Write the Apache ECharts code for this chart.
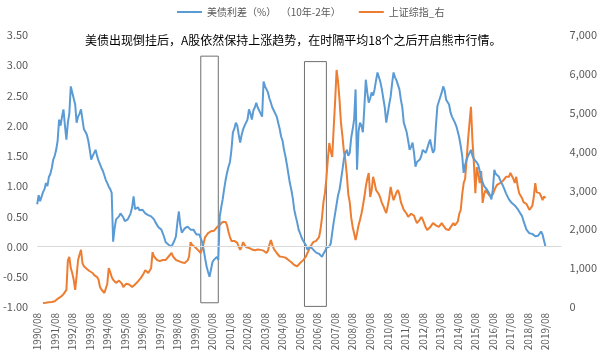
<!DOCTYPE html>
<html><head><meta charset="utf-8">
<script src="https://cdn.jsdelivr.net/npm/echarts@6/dist/echarts.min.js"></script>
<style>html,body{margin:0;padding:0;background:#fff}#c{width:600px;height:361px}</style>
</head><body><div id="c"></div>
<script>
// Monthly categories 1990/08 .. 2020/07 (axis runs a little past the last data point)
const categories = [];
for (let i = 0; i < 360; i++) {
  const m = 7 + i; const y = 1990 + Math.floor(m / 12); const mm = (m % 12) + 1;
  categories.push(y + '/' + (mm < 10 ? '0' + mm : mm));
}
const spreadName = '美债利差（%）  （10年-2年）';
const indexName = '上证综指_右';
// US 10y-2y spread (%), monthly from 1990/08, one row per year (Aug..Jul)
const spread = [
  0.70,0.85,0.75,0.73,0.90,0.95,1.05,1.00,1.15,1.20,1.30,1.44,
  1.50,1.60,1.75,2.10,2.00,2.15,2.27,2.00,1.77,2.05,2.20,2.65,
  2.55,2.55,2.35,2.05,2.15,2.20,2.27,2.10,1.94,1.90,1.85,1.75,
  1.60,1.44,1.50,1.55,1.60,1.50,1.42,1.39,1.30,1.25,1.22,1.10,
  1.05,0.99,0.95,0.89,0.08,0.30,0.45,0.48,0.50,0.55,0.56,0.48,
  0.42,0.40,0.45,0.50,0.55,0.65,0.83,0.62,0.61,0.65,0.60,0.62,
  0.61,0.58,0.55,0.57,0.52,0.55,0.50,0.48,0.45,0.40,0.38,0.32,
  0.30,0.28,0.22,0.15,0.07,0.05,0.03,0.02,0.00,0.05,0.10,0.17,
  0.40,0.58,0.35,0.23,0.25,0.30,0.28,0.33,0.30,0.28,0.30,0.28,
  0.25,0.20,0.17,0.20,0.17,0.07,-0.05,-0.20,-0.33,-0.42,-0.50,-0.38,
  -0.26,-0.22,-0.20,-0.17,-0.22,0.50,0.65,0.78,0.95,1.10,1.22,1.32,
  1.40,1.60,1.89,1.95,2.05,2.00,1.85,1.72,1.85,1.94,2.00,2.05,
  2.10,2.27,2.20,2.10,2.25,2.30,2.38,2.30,2.27,2.20,2.15,2.73,
  2.65,2.60,2.55,2.45,2.38,2.30,2.25,2.22,2.15,2.05,1.95,1.82,
  1.75,1.60,1.49,1.35,1.20,1.05,0.94,0.80,0.61,0.50,0.40,0.28,
  0.22,0.15,0.10,0.07,0.02,-0.05,-0.02,0.00,0.00,-0.05,-0.08,-0.10,
  -0.10,-0.12,-0.15,-0.17,-0.12,-0.08,-0.02,0.00,0.00,0.05,0.23,0.40,
  0.55,0.70,0.85,0.94,1.10,1.27,1.45,1.55,1.60,1.50,1.55,1.80,
  1.94,2.10,2.60,1.27,1.90,2.05,2.00,1.89,2.30,2.76,2.55,2.38,
  2.45,2.55,2.50,2.60,2.75,2.88,2.80,2.72,2.60,2.45,2.30,2.05,
  2.20,2.35,2.48,2.70,2.88,2.80,2.75,2.72,2.60,2.43,2.30,2.05,
  2.05,1.89,1.75,1.60,1.65,1.72,1.55,1.32,1.40,1.38,1.44,1.50,
  1.60,1.58,1.55,1.62,1.70,1.77,1.65,1.55,1.60,2.00,2.32,2.40,
  2.43,2.55,2.65,2.58,2.43,2.45,2.35,2.22,2.15,2.10,2.05,1.99,
  1.90,1.80,1.66,1.50,1.22,1.35,1.44,1.50,1.55,1.60,1.50,1.45,
  1.42,1.39,1.35,1.25,1.15,1.06,1.00,0.98,0.94,0.90,0.85,0.78,
  0.95,1.27,1.20,1.22,1.16,1.10,1.05,1.00,0.94,0.88,0.85,0.78,
  0.75,0.72,0.70,0.68,0.66,0.62,0.58,0.55,0.50,0.42,0.35,0.28,
  0.25,0.22,0.20,0.21,0.18,0.17,0.17,0.18,0.19,0.25,0.20,0.10,
  0.00
];
// Shanghai Composite, monthly from 1990/08 (right axis)
const sse = [
  null,null,null,null,100,105,110,120,125,130,130,135,
  150,180,210,230,260,300,330,380,440,1200,1290,1000,
  875,700,440,800,1210,1350,1470,1130,1050,1000,980,950,
  920,900,875,820,800,770,700,515,450,400,360,330,
  600,1000,900,770,700,650,620,640,680,700,600,515,
  560,600,620,580,560,515,540,580,620,660,700,750,
  800,870,950,900,875,900,1000,1410,1300,1250,1210,1200,
  1180,1200,1210,1220,1210,1250,1300,1350,1390,1300,1250,1210,
  1200,1180,1160,1150,1140,1130,1130,1200,1300,1670,1600,1560,
  1545,1500,1470,1420,1390,1500,1650,1800,1850,1900,1930,1950,
  1930,1960,1980,2050,2080,2110,2150,2190,2200,2190,2100,1930,
  1800,1700,1650,1700,1720,1650,1550,1470,1550,1670,1600,1545,
  1545,1520,1500,1480,1470,1460,1470,1480,1500,1470,1470,1450,
  1420,1390,1450,1600,1720,1600,1500,1450,1390,1350,1300,1290,
  1290,1280,1270,1250,1210,1200,1150,1100,1080,1030,1050,1100,
  1130,1150,1200,1250,1300,1350,1470,1550,1600,1670,1650,1700,
  1720,1800,2000,2300,2700,2930,3300,3800,4220,4000,3860,4600,
  5300,6100,5800,5330,4740,4400,4000,3780,3400,2900,2700,2300,
  2060,1900,1720,1900,2100,2240,2400,2600,2830,3100,3300,3450,
  2830,3000,3350,3200,3010,3050,2900,2800,2680,2600,2500,2420,
  2600,2800,3090,2900,2750,2800,2950,3010,2900,2700,2600,2500,
  2450,2400,2320,2350,2400,2420,2350,2250,2160,2200,2250,2320,
  2250,2150,2050,1980,2000,2050,2100,2160,2150,2100,2080,2060,
  2100,2160,2100,2050,2000,2000,1980,2050,2100,2160,2100,2150,
  2200,2400,2500,2900,3190,3300,3780,4300,4740,5150,4300,3700,
  2930,3600,3400,3190,3500,2680,2900,3010,2950,2900,2850,2830,
  2900,3000,3090,3150,3100,3190,3200,3250,3300,3350,3400,3350,
  3450,3400,3300,3190,3350,3100,2930,2900,2800,2700,2680,2650,
  2600,2500,2550,2600,2830,3190,2950,3000,2930,2850,2750,2850,
  2800
];
// Inversion windows highlighted by boxes: [startMonth, endMonth, top, bottom] in data units
const boxes = [
  ['1999/12', '2000/12', 3.15, -0.93],
  ['2005/11', '2007/02', 3.06, -0.99]
];
const note = '美债出现倒挂后，A股依然保持上涨趋势，在时隔平均18个之后开启熊市行情。';

const font = '"Noto Sans CJK SC", "Noto Sans", sans-serif';
const chart = echarts.init(document.getElementById('c'), null, {renderer: 'canvas'});
chart.setOption({
  animation: false,
  textStyle: {fontFamily: font},
  title: {text: note, left: 80, top: 29, textStyle: {fontSize: 12, fontWeight: 'normal', color: '#000', fontFamily: font}},
  legend: {
    top: 2, left: 172, itemGap: 18, itemWidth: 25, itemHeight: 2, icon: 'rect',
    textStyle: {fontSize: 10, color: '#595959', fontFamily: font},
    data: [spreadName, indexName]
  },
  grid: {left: 37, right: 38, top: 35, bottom: 54},
  xAxis: {
    type: 'category', data: categories, boundaryGap: false,
    axisLine: {show: false, onZero: false}, axisTick: {show: false},
    axisLabel: {interval: 11, rotate: 90, fontSize: 10, color: '#595959', margin: 6}
  },
  yAxis: [
    {type: 'value', min: -1, max: 3.5, interval: 0.5, splitLine: {show: false},
     axisLine: {show: false}, axisTick: {show: false},
     axisLabel: {formatter: v => v.toFixed(2), fontSize: 11, color: '#595959', margin: 9}},
    {type: 'value', min: 0, max: 7000, interval: 1000, splitLine: {show: false},
     axisLine: {show: false}, axisTick: {show: false},
     axisLabel: {fontSize: 11, color: '#595959', margin: 8}}
  ],
  series: [
    {name: spreadName, type: 'line', yAxisIndex: 0, data: spread, symbol: 'none',
     lineStyle: {color: '#5B9BD5', width: 2}, itemStyle: {color: '#5B9BD5'}, z: 3,
     markLine: {silent: true, symbol: 'none', label: {show: false},
       lineStyle: {color: '#d9d9d9', width: 1, type: 'solid'}, data: [{yAxis: 0}]},
     markArea: {silent: true,
       itemStyle: {color: 'rgba(0,0,0,0)', borderColor: '#6f6f6f', borderWidth: 1},
       data: boxes.map(b => [{xAxis: b[0], yAxis: b[2]}, {xAxis: b[1], yAxis: b[3]}])}
    },
    {name: indexName, type: 'line', yAxisIndex: 1, data: sse, symbol: 'none',
     lineStyle: {color: '#ED7D31', width: 2}, itemStyle: {color: '#ED7D31'}, z: 2}
  ]
});
</script></body></html>
